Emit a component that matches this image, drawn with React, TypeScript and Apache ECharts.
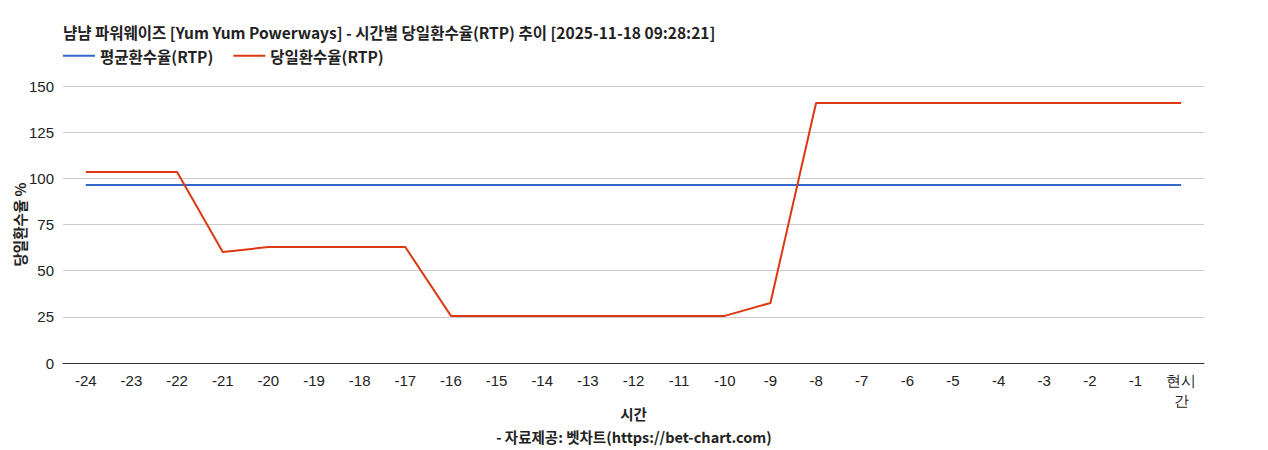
import { useEffect, useRef } from 'react';
import * as echarts from 'echarts';

const hours = [
  '-24', '-23', '-22', '-21', '-20', '-19', '-18', '-17', '-16', '-15', '-14', '-13', '-12',
  '-11', '-10', '-9', '-8', '-7', '-6', '-5', '-4', '-3', '-2', '-1', '현시간',
];

const avgRtp = [
  96.4, 96.4, 96.4, 96.4, 96.4, 96.4, 96.4, 96.4, 96.4, 96.4, 96.4, 96.4, 96.4,
  96.4, 96.4, 96.4, 96.4, 96.4, 96.4, 96.4, 96.4, 96.4, 96.4, 96.4, 96.4,
];

const dayRtp = [
  103.4, 103.4, 103.4, 60.1, 62.8, 62.8, 62.8, 62.8, 25.5, 25.5, 25.5, 25.5, 25.5,
  25.5, 25.5, 32.5, 140.8, 140.8, 140.8, 140.8, 140.8, 140.8, 140.8, 140.8, 140.8,
];

const titleText = '냠냠 파워웨이즈 [Yum Yum Powerways] - 시간별 당일환수율(RTP) 추이 [2025-11-18 09:28:21]';
const sourceText = '- 자료제공: 벳차트(https://bet-chart.com)';

const KR = '"Noto Sans CJK KR", "Noto Sans", sans-serif';
const SANS = '"Liberation Sans", Arial, sans-serif';

const App = () => {
  const divRef = useRef<HTMLDivElement | null>(null);

  useEffect(() => {
    document.body.style.margin = '0';
    if (!divRef.current) return;
    const chart = echarts.init(divRef.current, null, { renderer: 'svg' });
    chart.setOption({
      animation: false,
      title: [
        {
          text: titleText,
          left: 58,
          top: 19,
          textStyle: { fontFamily: KR, fontSize: 15.5, fontWeight: 'bold', color: '#222' },
        },
        {
          text: sourceText,
          left: 'center',
          top: 424,
          textStyle: { fontFamily: KR, fontSize: 14.5, fontWeight: 'bold', color: '#222' },
        },
      ],
      legend: {
        left: 58,
        top: 43,
        icon: 'rect',
        itemWidth: 32,
        itemHeight: 2,
        itemGap: 20,
        textStyle: { fontFamily: KR, fontSize: 15.5, fontWeight: 'bold', color: '#222' },
        data: ['평균환수율(RTP)', '당일환수율(RTP)'],
      },
      grid: { left: 63, right: 64, top: 86, bottom: 87, outerBoundsMode: 'none' },
      xAxis: {
        type: 'category',
        data: hours,
        boundaryGap: true,
        name: '시간',
        nameLocation: 'middle',
        nameGap: 43,
        nameMoveOverlap: false,
        nameTextStyle: { fontFamily: KR, fontSize: 14.5, fontWeight: 'bold', color: '#222' },
        axisLine: { lineStyle: { color: '#333' } },
        axisTick: { show: false },
        axisLabel: {
          interval: 0,
          margin: 7,
          fontFamily: SANS,
          fontSize: 15,
          color: '#222',
          lineHeight: 20,
          formatter: (v: string) => (v === '현시간' ? '현시\n간' : v),
        },
      },
      yAxis: {
        type: 'value',
        min: 0,
        max: 150,
        interval: 25,
        name: '당일환수율 %',
        nameLocation: 'middle',
        nameGap: 36,
        nameMoveOverlap: false,
        nameTextStyle: { fontFamily: KR, fontSize: 14.5, fontWeight: 'bold', color: '#222' },
        axisLine: { show: false },
        axisTick: { show: false },
        axisLabel: { margin: 9, fontFamily: SANS, fontSize: 15, color: '#222' },
        splitLine: { lineStyle: { color: '#cccccc' } },
      },
      series: [
        {
          name: '평균환수율(RTP)',
          type: 'line',
          data: avgRtp,
          showSymbol: false,
          color: '#3366cc',
          lineStyle: { width: 2 },
        },
        {
          name: '당일환수율(RTP)',
          type: 'line',
          data: dayRtp,
          showSymbol: false,
          color: '#dc3912',
          lineStyle: { width: 2 },
        },
      ],
    });
    return () => chart.dispose();
  }, []);

  return <div ref={divRef} style={{ width: 1268, height: 450 }} />;
};

export default App;
